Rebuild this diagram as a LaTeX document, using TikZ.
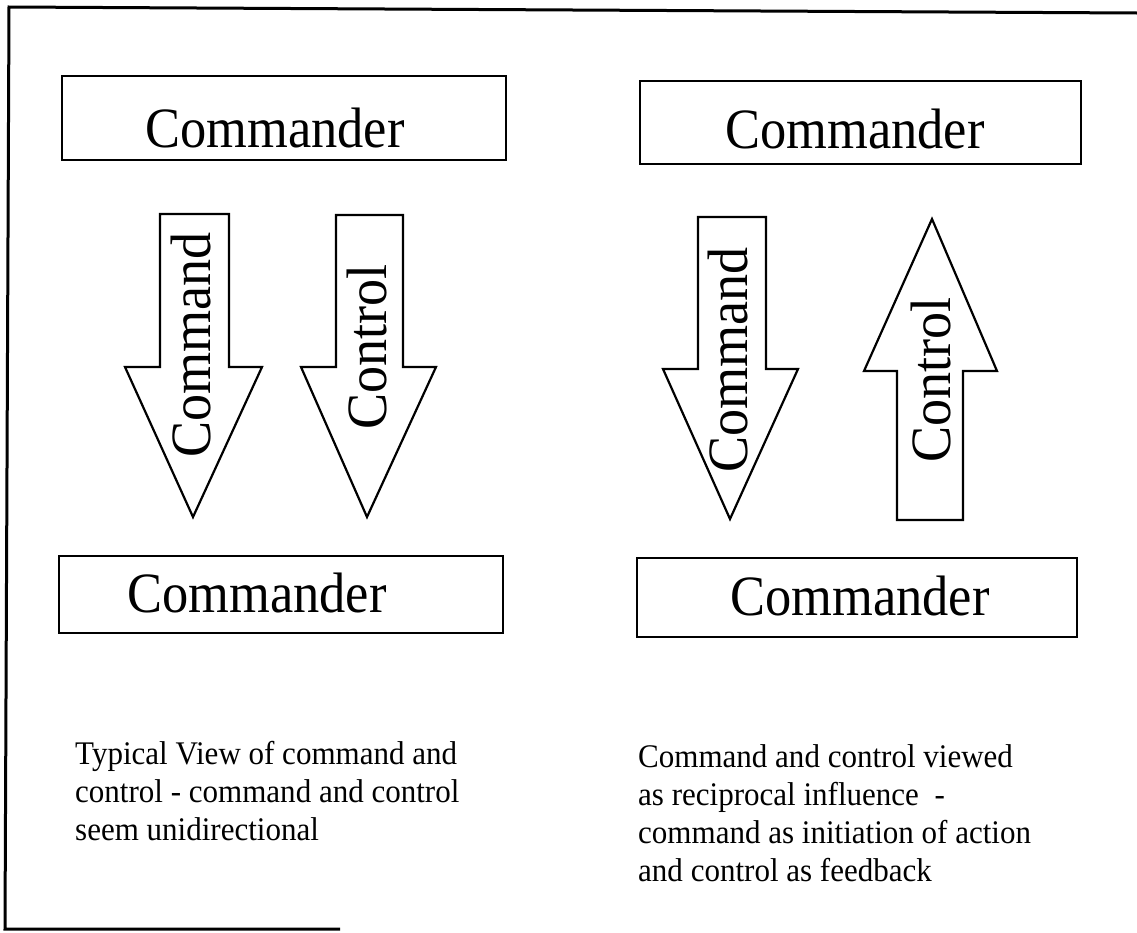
\documentclass[tikz,border=0pt]{standalone}
\usepackage{fontspec}
\setmainfont{Liberation Serif}
\begin{document}
\begin{tikzpicture}[x=1pt,y=-1pt,
  frameline/.style={line width=3pt},
  boxline/.style={draw,line width=2.8pt},
  arrowshape/.style={draw,line width=2.2pt,line join=miter,fill=white},
  bigtext/.style={font=\fontsize{57}{60}\selectfont,inner sep=0pt,anchor=base},
  smalltext/.style={font=\fontsize{33}{38}\selectfont,inner sep=0pt,anchor=base west}]
\useasboundingbox (0,0) rectangle (1137,932);
\fill[white] (0,0) rectangle (1137,932);
% frame
\draw[frameline] (1137,13) -- (9,7) -- (5,929) -- (340,929);
% boxes
\draw[boxline] (62,76) rectangle (506,160);
\draw[boxline] (640,81) rectangle (1081,164);
\draw[boxline] (59,556) rectangle (503,633);
\draw[boxline] (637,558) rectangle (1077,637);
\node[bigtext] (tl) at (275,147) {\scalebox{0.92}[1]{Commander}};
\node[bigtext] (tr) at (855,148) {\scalebox{0.92}[1]{Commander}};
\node[bigtext] (bl) at (257,612) {\scalebox{0.92}[1]{Commander}};
\node[bigtext] (br) at (860,615) {\scalebox{0.92}[1]{Commander}};
% left arrows
\draw[arrowshape] (160,214) -- (229,214) -- (229,367) -- (262,367) -- (193,517) -- (125,367) -- (160,367) -- cycle;
\draw[arrowshape] (336,215) -- (403,215) -- (403,367) -- (436,367) -- (367,517) -- (301,367) -- (336,367) -- cycle;
% right arrows
\draw[arrowshape] (698,217) -- (766,217) -- (766,369) -- (798,369) -- (730,519) -- (663,369) -- (698,369) -- cycle;
\draw[arrowshape] (897,520) -- (963,520) -- (963,371) -- (997,371) -- (932,219) -- (864,371) -- (897,371) -- cycle;
% arrow labels
\node[bigtext,rotate=90] (lcmd) at (210,345) {\scalebox{0.95}[1]{Command}};
\node[bigtext,rotate=90] (lctl) at (386,347) {\scalebox{0.95}[1]{Control}};
\node[bigtext,rotate=90] (rcmd) at (747,360) {\scalebox{0.95}[1]{Command}};
\node[bigtext,rotate=90] (rctl) at (950,380) {\scalebox{0.95}[1]{Control}};
% captions
\node[smalltext] (capl) at (75,764) {\scalebox{0.94}[1]{\begin{tabular}[t]{@{}l@{}}Typical View of command and\\control - command and control\\seem unidirectional\end{tabular}}};
\node[smalltext] (capr) at (638,767) {\scalebox{0.94}[1]{\begin{tabular}[t]{@{}l@{}}Command and control viewed\\as reciprocal influence\ \ -\\command as initiation of action\\and control as feedback\end{tabular}}};
\end{tikzpicture}
\end{document}
